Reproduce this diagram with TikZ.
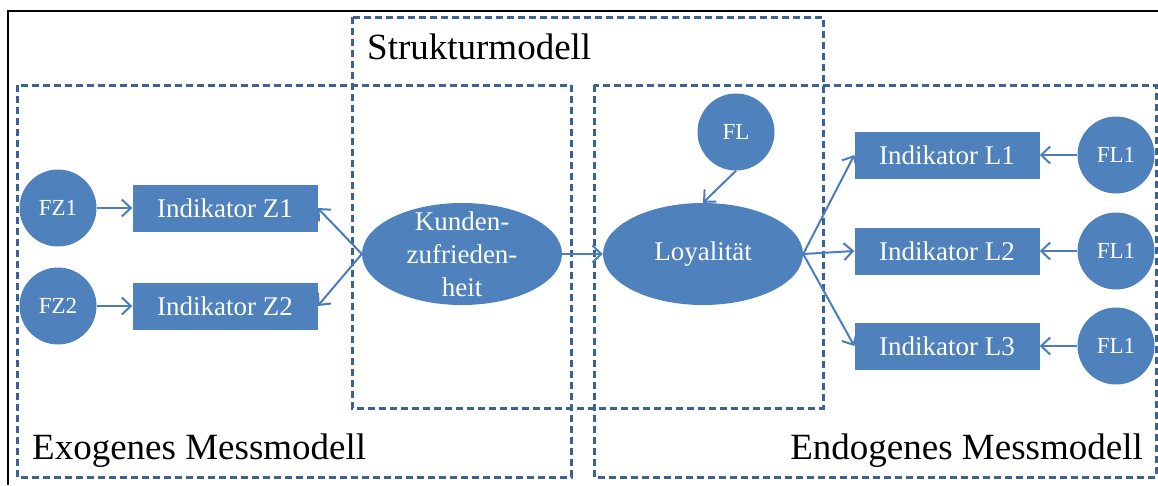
\documentclass[tikz,border=0pt]{standalone}
\usepackage{fontspec}
\setmainfont{Liberation Serif}
\usetikzlibrary{shapes.geometric,arrows.meta}
\definecolor{fillblue}{RGB}{79,129,189}
\definecolor{lineblue}{RGB}{74,126,187}
\definecolor{boxblue}{RGB}{60,98,148}

\begin{document}
\begin{tikzpicture}[x=1pt,y=-1pt,
  latent/.style={circle,fill=fillblue,minimum size=77pt,inner sep=0pt,text=white,font=\fontsize{23}{26}\selectfont},
  indik/.style={rectangle,fill=fillblue,minimum width=185pt,minimum height=47pt,inner sep=0pt,text=white,font=\fontsize{27}{33}\selectfont},
  konstr/.style={ellipse,fill=fillblue,minimum width=200pt,minimum height=102pt,inner sep=0pt,text=white,font=\fontsize{27}{33}\selectfont},
  pfeil/.style={draw=lineblue,line width=2pt,-{Straight Barb[length=9pt,width=17pt,line width=2pt]}},
  modell/.style={draw=boxblue,line width=3pt,dash pattern=on 7pt off 4pt},
  titel/.style={inner sep=0pt,font=\fontsize{37}{40}\selectfont}]
\useasboundingbox (0,0) rectangle (1158,485);
\draw[line width=2.5pt] (8,485) |- (1158,11);

\draw[modell] (352,17) rectangle (823,408);
\draw[modell] (17,85) rectangle (571,477);
\draw[modell] (594,85) rectangle (1156,477);
\node[titel,anchor=base west] (struktur) at (367,59) {Strukturmodell};
\node[titel,anchor=base west] (exogen) at (32,459) {Exogenes Messmodell};
\node[titel,anchor=base east] (endogen) at (1143,459) {Endogenes Messmodell};

\node[latent] (fz1) at (58,208) {FZ1};
\node[latent] (fz2) at (58,306) {FZ2};
\node[indik] (iz1) at (225,208) {Indikator Z1};
\node[indik] (iz2) at (225,306) {Indikator Z2};
\node[konstr,label={[text=white,align=center,font=\fontsize{27}{33}\selectfont]center:Kunden-\\zufrieden-\\heit}] (kz) at (462,254) {};
\node[konstr] (loy) at (703,254) {Loyalität};
\node[latent] (fl) at (736,132) {FL};
\node[indik] (il1) at (947,155) {Indikator L1};
\node[indik] (il2) at (947,251) {Indikator L2};
\node[indik] (il3) at (947,346) {Indikator L3};
\node[latent] (fl1a) at (1116,155) {FL1};
\node[latent] (fl1b) at (1116,251) {FL1};
\node[latent] (fl1c) at (1116,346) {FL1};

\draw[pfeil] (fz1) -- (iz1);
\draw[pfeil] (fz2) -- (iz2);
\draw[pfeil] (kz.west) -- (iz1.east);
\draw[pfeil] (kz.west) -- (iz2.east);
\draw[pfeil] (kz.east) -- (loy.west);
\draw[pfeil] (fl.south) -- (loy.north);
\draw[pfeil] (loy.east) -- (il1.west);
\draw[pfeil] (loy.east) -- (il2.west);
\draw[pfeil] (loy.east) -- (il3.west);
\draw[pfeil] (fl1a) -- (il1);
\draw[pfeil] (fl1b) -- (il2);
\draw[pfeil] (fl1c) -- (il3);
\end{tikzpicture}
\end{document}
